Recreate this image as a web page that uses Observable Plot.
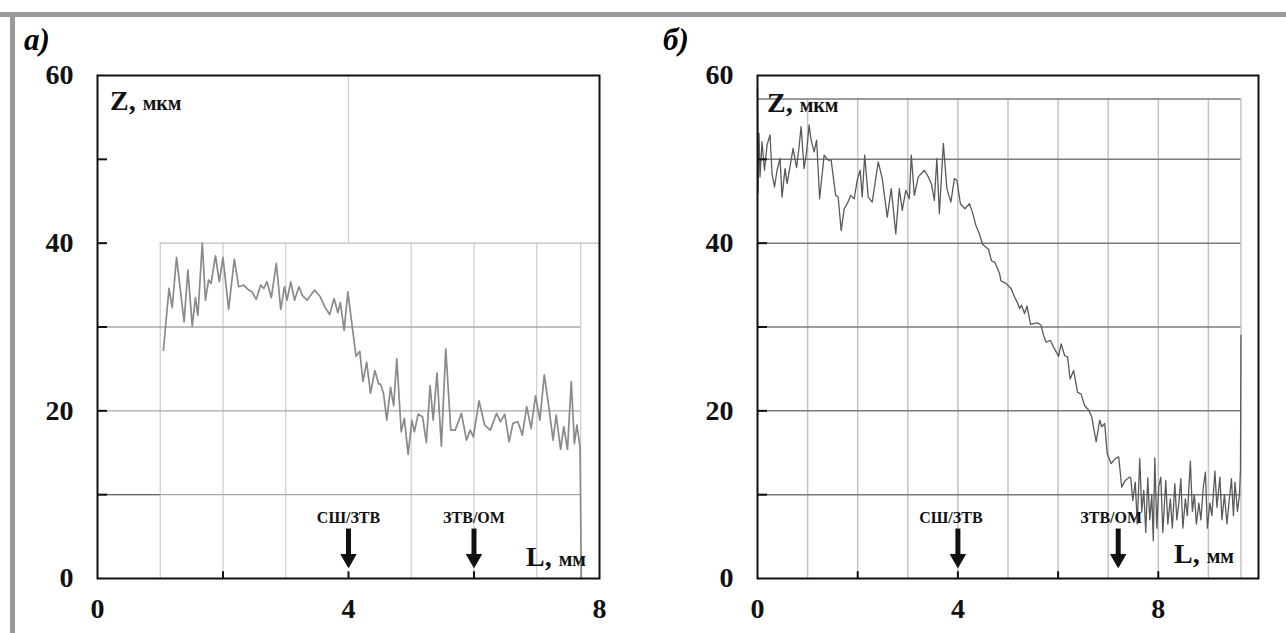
<!DOCTYPE html>
<html>
<head>
<meta charset="utf-8">
<script src="https://cdn.jsdelivr.net/npm/d3@7"></script>
<script src="https://cdn.jsdelivr.net/npm/@observablehq/plot@0.6"></script>
<style>
  html, body { margin: 0; padding: 0; background: #fff; }
  #page { position: relative; width: 1286px; height: 633px; overflow: hidden; background: #fff; }
  .bar-top { position: absolute; left: 0; top: 12px; width: 1286px; height: 5px; background: #9a9a9a; }
  .bar-left { position: absolute; left: 10px; top: 12px; width: 5px; height: 621px; background: #9a9a9a; }
  .plabel { position: absolute; z-index: 2; font-family: "Liberation Serif", "DejaVu Serif", serif; font-style: italic; font-weight: bold; font-size: 31px; line-height: 1; }
  .panel { position: absolute; top: 40px; z-index: 1; }
</style>
</head>
<body>
<div id="page">
  <div class="bar-top"></div>
  <div class="bar-left"></div>
  <div class="panel" id="pa" style="left:0px;"></div>
  <div class="panel" id="pb" style="left:640px;"></div>
  <div class="plabel" style="left:24px; top:24px;">а)</div>
  <div class="plabel" style="left:663px; top:24px;">б)</div>
</div>
<script>
// ---------- data ----------
const yTicks = [0, 20, 40, 60];
const xTicks = [0, 4, 8];

// Panel а: profile L (mm) vs Z (µm)
const aL = [1.05,1.09,1.14,1.19,1.26,1.38,1.44,1.51,1.56,1.60,1.67,1.72,1.77,1.81,1.88,1.94,2.00,2.09,2.18,2.25,2.33,2.41,2.46,2.53,2.60,2.65,2.70,2.77,2.85,2.92,2.98,3.02,3.08,3.14,3.21,3.27,3.34,3.46,3.55,3.63,3.70,3.77,3.83,3.87,3.93,3.99,4.06,4.12,4.18,4.23,4.29,4.35,4.42,4.48,4.51,4.56,4.61,4.67,4.72,4.77,4.84,4.89,4.95,5.01,5.05,5.11,5.18,5.24,5.30,5.35,5.41,5.48,5.55,5.63,5.70,5.80,5.88,5.94,5.99,6.08,6.17,6.26,6.36,6.42,6.49,6.56,6.62,6.70,6.77,6.84,6.91,6.98,7.05,7.12,7.19,7.26,7.31,7.38,7.43,7.49,7.55,7.60,7.64,7.69,7.71];
const aZ = [27.2,30.5,34.6,32.3,38.3,30.6,36.8,30.1,33.5,31.4,40.0,33.2,35.6,35.2,38.5,35.4,38.3,32.1,38.1,34.8,35.0,34.4,34.2,33.3,35.0,34.6,35.4,33.5,37.6,32.1,34.8,33.2,35.4,33.2,34.8,33.7,33.2,34.4,33.6,32.3,31.5,33.4,31.7,32.9,29.6,34.2,30.0,26.5,27.1,23.5,25.8,22.1,24.8,23.2,23.2,22.0,18.9,22.8,20.6,26.2,17.5,19.1,14.8,18.9,17.5,19.6,19.3,16.2,23.0,18.9,24.5,15.8,27.4,17.7,17.7,19.7,16.5,17.7,16.9,21.2,18.3,17.7,19.7,18.7,19.6,16.3,18.5,18.7,17.1,20.5,17.9,21.8,18.9,24.3,20.6,16.5,19.5,15.4,18.1,15.4,23.5,16.1,18.3,15.7,0.0];

// Panel б
const bL = [0.00,0.01,0.03,0.05,0.09,0.14,0.19,0.25,0.29,0.34,0.39,0.45,0.49,0.55,0.59,0.66,0.71,0.78,0.83,0.87,0.93,0.98,1.03,1.07,1.13,1.18,1.24,1.33,1.41,1.47,1.56,1.61,1.67,1.73,1.79,1.86,1.93,1.99,2.05,2.09,2.14,2.21,2.29,2.41,2.49,2.59,2.67,2.76,2.83,2.89,2.96,3.03,3.07,3.13,3.21,3.33,3.41,3.47,3.53,3.58,3.63,3.71,3.78,3.86,3.93,3.98,4.05,4.14,4.23,4.29,4.36,4.43,4.49,4.56,4.61,4.67,4.74,4.83,4.86,4.96,5.06,5.13,5.18,5.23,5.27,5.33,5.38,5.45,5.51,5.59,5.66,5.71,5.76,5.85,5.91,6.01,6.06,6.13,6.19,6.24,6.31,6.39,6.46,6.53,6.61,6.67,6.76,6.83,6.87,6.93,6.98,7.06,7.14,7.21,7.27,7.34,7.43,7.45,7.49,7.54,7.58,7.63,7.67,7.71,7.75,7.79,7.83,7.87,7.90,7.93,7.97,8.01,8.05,8.09,8.15,8.19,8.24,8.28,8.33,8.37,8.41,8.45,8.49,8.54,8.58,8.64,8.68,8.72,8.76,8.81,8.85,8.90,8.94,8.98,9.03,9.07,9.13,9.17,9.23,9.27,9.32,9.37,9.41,9.46,9.50,9.53,9.58,9.62,9.64,9.65];
const bZ = [58.5,46.0,53.1,47.9,52.1,48.7,51.7,52.9,48.3,46.7,48.7,50.1,45.5,48.9,47.1,49.5,51.3,49.0,51.5,53.9,48.9,50.9,54.1,52.3,50.9,52.3,45.3,50.5,49.9,49.9,45.7,45.5,41.5,44.1,44.7,45.7,45.3,47.5,48.7,45.5,50.5,45.5,44.9,49.7,47.7,43.1,46.5,41.1,46.5,43.9,46.3,45.3,50.5,45.7,47.9,48.7,47.9,47.1,45.1,50.1,43.5,51.9,46.5,44.9,47.7,47.5,44.7,44.1,44.7,43.7,42.1,41.1,39.9,39.5,39.3,37.9,37.7,36.4,35.5,35.2,34.6,33.6,33.0,32.2,32.6,31.6,32.5,30.3,30.4,30.5,30.2,29.0,28.2,28.4,27.6,26.5,28.0,26.6,26.4,23.8,24.8,22.2,22.0,20.6,20.1,19.3,16.3,18.9,18.1,18.5,14.9,13.7,14.3,14.5,10.9,11.7,12.1,12.0,9.3,11.5,6.5,14.3,8.0,10.5,5.5,12.0,7.0,10.0,4.5,14.4,6.0,11.0,12.1,5.5,11.7,6.5,9.5,6.0,11.3,7.0,9.0,11.9,6.0,9.5,7.5,14.0,8.0,10.0,6.5,9.0,7.0,11.0,12.7,6.0,9.0,7.5,12.8,8.5,12.1,7.0,10.0,6.5,9.0,11.9,7.5,11.5,8.0,10.0,13.0,29.0];

// zone boundaries (L, mm) and their labels
const boundLabels = ["СШ/ЗТВ", "ЗТВ/ОМ"];
const boundA = [4.0, 6.0];
const boundB = [4.0, 7.2];

// grid positions
const gridAH = [10, 20, 30];
const gridAV = [1, 2, 3, 5, 6, 7, 7.7];
const gridBH = [10, 20, 30, 40, 50, 57.2];
const gridBV = [1, 2, 3, 4, 5, 6, 7, 8, 9, 9.65];
const leftTicks = [10, 20, 30, 40, 50];
const bottomTicksA = [2, 4, 6];
const bottomTicksB = [2, 4, 6, 8];

// ---------- drawing ----------
const SERIF = "'Liberation Serif', 'DejaVu Serif', serif";
const toRows = (xs, ys) => xs.map((x, i) => ({L: x, Z: ys[i]}));

function arrowsMarks(bounds, dxLabel) {
  const rows = bounds.map((x, i) => ({L: x, label: boundLabels[i]}));
  return [
    Plot.text(rows, {x: "L", y: 7.2, text: "label", dx: dxLabel, fontSize: 16, fontWeight: "bold", fontFamily: SERIF, fill: "#111"}),
    Plot.ruleX(rows, {x: "L", y1: 5.9, y2: 2.6, stroke: "#111", strokeWidth: 5}),
    Plot.dot(rows, {x: "L", y: 2.35, symbol: "triangle", rotate: 180, r: 5.6, fill: "#111", stroke: "#111", strokeWidth: 1})
  ];
}

function addMixed(svg, x, y, big, small, anchor) {
  const t = d3.select(svg).append("text")
    .attr("x", x).attr("y", y)
    .attr("font-family", SERIF).attr("font-weight", "bold")
    .attr("fill", "#111")
    .attr("text-anchor", anchor || "start");
  t.append("tspan").attr("font-size", 28).text(big);
  t.append("tspan").attr("font-size", 20).attr("dx", 7).text(small);
}

function axes(ticksX) {
  return [
    Plot.axisY(yTicks, {tickSize: 0, tickPadding: 24, fontSize: 28, fontWeight: "bold", fontFamily: SERIF, fill: "#111", anchor: "left", label: null}),
    Plot.axisX(ticksX, {tickSize: 0, tickPadding: 20, fontSize: 28, fontWeight: "bold", fontFamily: SERIF, fill: "#111", anchor: "bottom", label: null})
  ];
}

// Panel а
const mA = {left: 97, right: 41, top: 35, bottom: 55};
const plotA = Plot.plot({
  width: 640, height: 593,
  marginLeft: mA.left, marginRight: mA.right, marginTop: mA.top, marginBottom: mA.bottom,
  style: {fontFamily: SERIF, fontSize: "28px", background: "transparent"},
  x: {domain: [0, 8], label: null},
  y: {domain: [0, 60], label: null},
  marks: [
    Plot.ruleX(gridAV, {y1: 0, y2: 40, stroke: "#cfcfcf", strokeWidth: 1.3}),
    Plot.ruleX([4], {y1: 40, y2: 60, stroke: "#cfcfcf", strokeWidth: 1.3}),
    Plot.ruleY(gridAH, {x1: 0, x2: 7.7, stroke: "#a8a8a8", strokeWidth: 1.3}),
    Plot.ruleY([10], {x1: 0, x2: 1, stroke: "#666", strokeWidth: 1.3}),
    Plot.ruleY([40], {x1: 1, x2: 8, stroke: "#bdbdbd", strokeWidth: 1.3}),
    Plot.line(toRows(aL, aZ), {x: "L", y: "Z", stroke: "#8a8a8a", strokeWidth: 1.7, curve: "linear"}),
    Plot.ruleY(leftTicks, {x1: 0, x2: 0.16, stroke: "#111", strokeWidth: 2}),
    Plot.ruleX(bottomTicksA, {y1: 0, y2: 0.8, stroke: "#111", strokeWidth: 2}),
    ...arrowsMarks(boundA, 0),
    Plot.frame({stroke: "#111", strokeWidth: 2}),
    ...axes(xTicks)
  ]
});
document.getElementById("pa").appendChild(plotA);
addMixed(plotA, mA.left + 13, mA.top + 35, "Z,", "мкм");
addMixed(plotA, 640 - mA.right - 13, 593 - mA.bottom - 12, "L,", "мм", "end");

// Panel б
const mB = {left: 117, right: 28, top: 35, bottom: 55};
const plotB = Plot.plot({
  width: 646, height: 593,
  marginLeft: mB.left, marginRight: mB.right, marginTop: mB.top, marginBottom: mB.bottom,
  style: {fontFamily: SERIF, fontSize: "28px", background: "transparent"},
  x: {domain: [0, 10], label: null},
  y: {domain: [0, 60], label: null},
  marks: [
    Plot.ruleX(gridBV, {y1: 0, y2: 57.2, stroke: "#c4c4c4", strokeWidth: 1.5}),
    Plot.ruleY(gridBH, {x1: 0, x2: 9.65, stroke: "#7a7a7a", strokeWidth: 1.5}),
    Plot.line(toRows(bL, bZ), {x: "L", y: "Z", stroke: "#5a5a5a", strokeWidth: 1.3, curve: "linear"}),
    Plot.ruleY(leftTicks, {x1: 0, x2: 0.2, stroke: "#111", strokeWidth: 2}),
    Plot.ruleX(bottomTicksB, {y1: 0, y2: 0.8, stroke: "#111", strokeWidth: 2}),
    ...arrowsMarks(boundB, -7),
    Plot.frame({stroke: "#111", strokeWidth: 2}),
    ...axes(xTicks)
  ]
});
document.getElementById("pb").appendChild(plotB);
addMixed(plotB, mB.left + 10, mB.top + 37, "Z,", "мкм");
addMixed(plotB, 646 - mB.right - 24, 593 - mB.bottom - 15, "L,", "мм", "end");
</script>
</body>
</html>
